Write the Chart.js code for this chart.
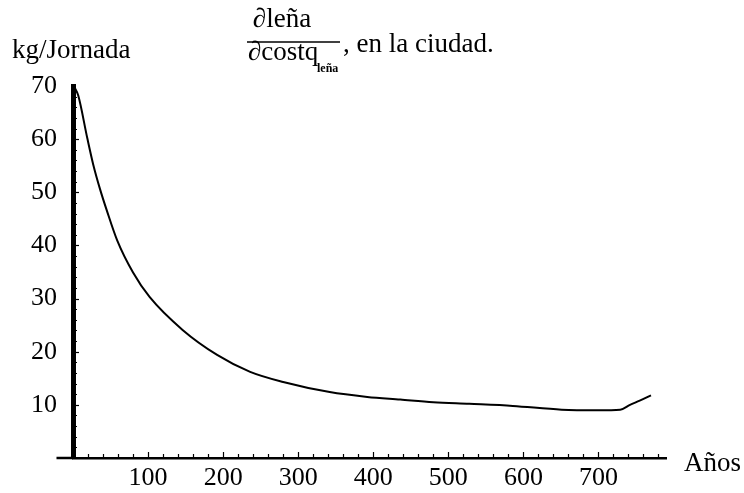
<!DOCTYPE html>
<html lang="es">
<head>
<meta charset="utf-8">
<title>leña / costo leña, en la ciudad</title>
<script src="https://cdn.jsdelivr.net/npm/chart.js@4.4.1/dist/chart.umd.min.js"></script>
<style>
  html, body { margin: 0; padding: 0; background: #fff; }
  #chart { display: block; }
</style>
</head>
<body>
<canvas id="chart" width="744" height="493"></canvas>
<script>
// Datos (años vs kg/jornada)
const anos = [0, 3, 7, 19, 27, 36, 45, 59, 80, 102, 146, 192, 236, 280, 342, 392, 436, 480, 528, 586, 651, 700, 729, 742, 755, 770];
const kgJornada = [70, 69.5, 68.2, 60.2, 55.2, 50.6, 46.6, 40.9, 34.9, 30.3, 24.1, 19.4, 16.2, 14.3, 12.4, 11.5, 11.0, 10.5, 10.2, 9.8, 9.1, 9.0, 9.1, 10.0, 10.8, 11.8];

const xTicks = [100, 200, 300, 400, 500, 600, 700];
const yTicks = [10, 20, 30, 40, 50, 60, 70];

const FONT = '"Liberation Serif", "Times New Roman", serif';

// Marcas menores, extensión del eje x y textos (título y nombres de ejes)
const decoPlugin = {
    id: 'deco',
    afterDraw(chart) {
        const { ctx, scales: { x, y } } = chart;
        const y0 = y.getPixelForValue(0);
        const x0 = x.getPixelForValue(0);
        ctx.save();
        ctx.strokeStyle = '#000';
        ctx.fillStyle = '#000';

        // eje x un poco a la izquierda del eje y
        ctx.lineWidth = 2.5;
        ctx.beginPath();
        ctx.moveTo(x.getPixelForValue(-22), y0);
        ctx.lineTo(x.left, y0);
        ctx.stroke();

        // marcas del eje x (hacia arriba)
        ctx.lineWidth = 1.2;
        for (let v = 20; v <= 780; v += 20) {
            const px = Math.round(x.getPixelForValue(v)) + 0.5;
            const len = v % 100 === 0 ? 5 : 3;
            ctx.beginPath();
            ctx.moveTo(px, y0 - 1);
            ctx.lineTo(px, y0 - 1 - len);
            ctx.stroke();
        }
        // marcas del eje y (hacia la derecha)
        for (let v = 2; v < 70; v += 2) {
            const py = Math.round(y.getPixelForValue(v)) + 0.5;
            const len = v % 10 === 0 ? 4 : 2;
            ctx.beginPath();
            ctx.moveTo(x0 + 2, py);
            ctx.lineTo(x0 + 2 + len, py);
            ctx.stroke();
        }

        ctx.textBaseline = 'alphabetic';
        ctx.font = '27px ' + FONT;
        ctx.textAlign = 'left';
        ctx.fillText('kg/Jornada', 12, 58);
        ctx.fillText('Años', 684, 471);

        // título: ∂leña / ∂costo_leña , en la ciudad.
        ctx.textAlign = 'center';
        ctx.fillText('\u2202leña', 282, 27);
        ctx.lineWidth = 1.5;
        ctx.beginPath();
        ctx.moveTo(247, 42);
        ctx.lineTo(340, 42);
        ctx.stroke();
        ctx.textAlign = 'left';
        ctx.fillText('\u2202costq', 248, 60);
        ctx.font = 'bold 12px ' + FONT;
        ctx.fillText('leña', 317, 72);
        ctx.font = '27px ' + FONT;
        ctx.fillText(', en la ciudad.', 343, 52);
        ctx.restore();
    }
};

new Chart(document.getElementById('chart'), {
    type: 'scatter',
    data: {
        datasets: [{
            label: 'kg/Jornada',
            data: anos.map((a, i) => ({ x: a, y: kgJornada[i] })),
            showLine: true,
            borderColor: '#000',
            borderWidth: 2,
            pointRadius: 0,
            cubicInterpolationMode: 'monotone',
            clip: false
        }]
    },
    options: {
        responsive: false,
        animation: false,
        devicePixelRatio: 1,
        layout: { padding: { left: 0, right: 78, top: 86, bottom: 0 } },
        plugins: {
            legend: { display: false },
            tooltip: { enabled: false }
        },
        scales: {
            x: {
                type: 'linear',
                min: 0,
                max: 790,
                afterBuildTicks: (scale) => { scale.ticks = xTicks.map(v => ({ value: v })); },
                afterFit: (scale) => { scale.height = 35; },
                grid: { drawOnChartArea: false, drawTicks: false },
                border: { display: true, color: '#000', width: 2.5 },
                ticks: { color: '#000', padding: 5, font: { family: FONT, size: 26 } }
            },
            y: {
                type: 'linear',
                min: 0,
                max: 70,
                afterBuildTicks: (scale) => { scale.ticks = yTicks.map(v => ({ value: v })); },
                afterFit: (scale) => { scale.width = 73; },
                grid: { drawOnChartArea: false, drawTicks: false },
                border: { display: true, color: '#000', width: 5 },
                ticks: { color: '#000', padding: 16, font: { family: FONT, size: 26 } }
            }
        }
    },
    plugins: [decoPlugin]
});
</script>
</body>
</html>
